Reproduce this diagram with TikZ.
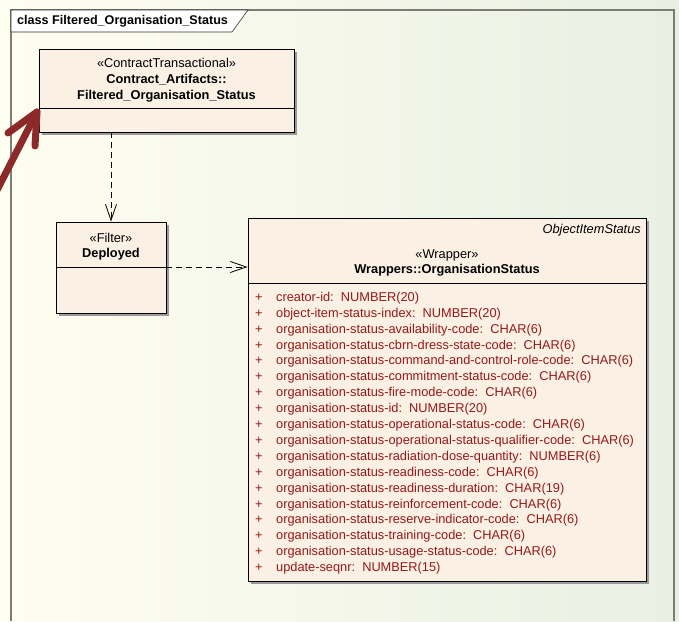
\documentclass[tikz,border=0pt]{standalone}
\usepackage{fontspec}
\setmainfont{Liberation Sans}
\usetikzlibrary{arrows.meta,shadows}

\definecolor{bgleft}{RGB}{254,254,240}
\definecolor{bgright}{RGB}{233,239,227}
\definecolor{boxfill}{RGB}{250,240,228}
\definecolor{attrred}{RGB}{150,25,25}
\definecolor{markred}{RGB}{140,42,42}
\definecolor{framegray}{RGB}{125,125,120}

\tikzset{
  classbox/.style={draw, line width=0.9pt, fill=boxfill, inner sep=0pt,
    drop shadow={shadow xshift=3pt, shadow yshift=-3pt, fill=black!40, opacity=1}},
  stereo/.style={font=\fontsize{12.8}{14}\selectfont, inner sep=0pt},
  cname/.style={font=\fontsize{12.8}{14}\selectfont\bfseries, inner sep=0pt},
  dep/.style={dash pattern=on 6pt off 4pt, line width=0.8pt,
    -{Straight Barb[length=16pt,width=11pt,line width=0.8pt]}},
  redmark/.style={markred, line width=7pt, line cap=round, line join=round}
}

\begin{document}
\begin{tikzpicture}[x=1pt,y=-1pt]
\useasboundingbox (0,0) rectangle (679,621);
\fill[left color=bgleft, right color=bgright] (0,0) rectangle (679,621);

% frame of the diagram
\draw[framegray, line width=1.5pt] (11,621) -- (11,10) -- (674,10) -- (674,621);
\draw[fill=white, line width=0.6pt, draw=black!80] (11,10) -- (248,10) -- (232,32) -- (11,32) -- cycle;
\node[anchor=west, font=\fontsize{12.6}{14}\selectfont\bfseries, inner sep=0pt] (title) at (17,21) {class Filtered\_Organisation\_Status};

% Contract_Artifacts::Filtered_Organisation_Status
\node[classbox, minimum width=255pt, minimum height=83pt] (contract) at (166.5,90.5) {};
\draw[line width=0.9pt] (contract.west |- 0,108) -- (contract.east |- 0,108);
\node[stereo] (contractst) at (166.5,63) {«ContractTransactional»};
\node[cname] (contractn1) at (166.5,80) {Contract\_Artifacts::};
\node[cname] (contractn2) at (166.5,96) {Filtered\_Organisation\_Status};

% Deployed
\node[classbox, minimum width=110pt, minimum height=91pt] (filter) at (111,267.5) {};
\coordinate (filterdiv) at (166,267);
\draw[line width=0.9pt] (filter.west |- filterdiv) -- (filterdiv);
\node[stereo] (filterst) at (111,238) {«Filter»};
\node[cname] (filtern) at (111,254) {Deployed};

% Wrappers::OrganisationStatus
\node[classbox, minimum width=398pt, minimum height=363pt] (wrapper) at (447,399.5) {};
\draw[line width=0.9pt] (wrapper.west |- 0,283) -- (wrapper.east |- 0,283);
\node[anchor=east, font=\fontsize{12.8}{14}\selectfont\itshape, inner sep=0pt] (parent) at (641,230) {ObjectItemStatus};
\node[stereo] (wrapperst) at (447,255) {«Wrapper»};
\node[cname] (wrappern) at (447,270) {Wrappers::OrganisationStatus};

\node[anchor=north west, inner sep=0pt, text=attrred, font=\fontsize{12.8}{15.9}\selectfont] (attrs) at (255,290) {%
\begin{tabular}{@{}l@{\hspace{13.5pt}}l@{}}
+ & creator-id:\ \ NUMBER(20)\\
+ & object-item-status-index:\ \ NUMBER(20)\\
+ & organisation-status-availability-code:\ \ CHAR(6)\\
+ & organisation-status-cbrn-dress-state-code:\ \ CHAR(6)\\
+ & organisation-status-command-and-control-role-code:\ \ CHAR(6)\\
+ & organisation-status-commitment-status-code:\ \ CHAR(6)\\
+ & organisation-status-fire-mode-code:\ \ CHAR(6)\\
+ & organisation-status-id:\ \ NUMBER(20)\\
+ & organisation-status-operational-status-code:\ \ CHAR(6)\\
+ & organisation-status-operational-status-qualifier-code:\ \ CHAR(6)\\
+ & organisation-status-radiation-dose-quantity:\ \ NUMBER(6)\\
+ & organisation-status-readiness-code:\ \ CHAR(6)\\
+ & organisation-status-readiness-duration:\ \ CHAR(19)\\
+ & organisation-status-reinforcement-code:\ \ CHAR(6)\\
+ & organisation-status-reserve-indicator-code:\ \ CHAR(6)\\
+ & organisation-status-training-code:\ \ CHAR(6)\\
+ & organisation-status-usage-status-code:\ \ CHAR(6)\\
+ & update-seqnr:\ \ NUMBER(15)
\end{tabular}};

% dependencies
\draw[dep] (filter.north |- contract.south) -- (filter.north);
\draw[dep] (filterdiv) -- (filterdiv -| wrapper.west);

% red pointer
\coordinate (tip) at (37,112);
\draw[redmark] (-6,196) -- (tip);
\draw[redmark] (8,133) -- (tip) -- (35,146);
\end{tikzpicture}
\end{document}
